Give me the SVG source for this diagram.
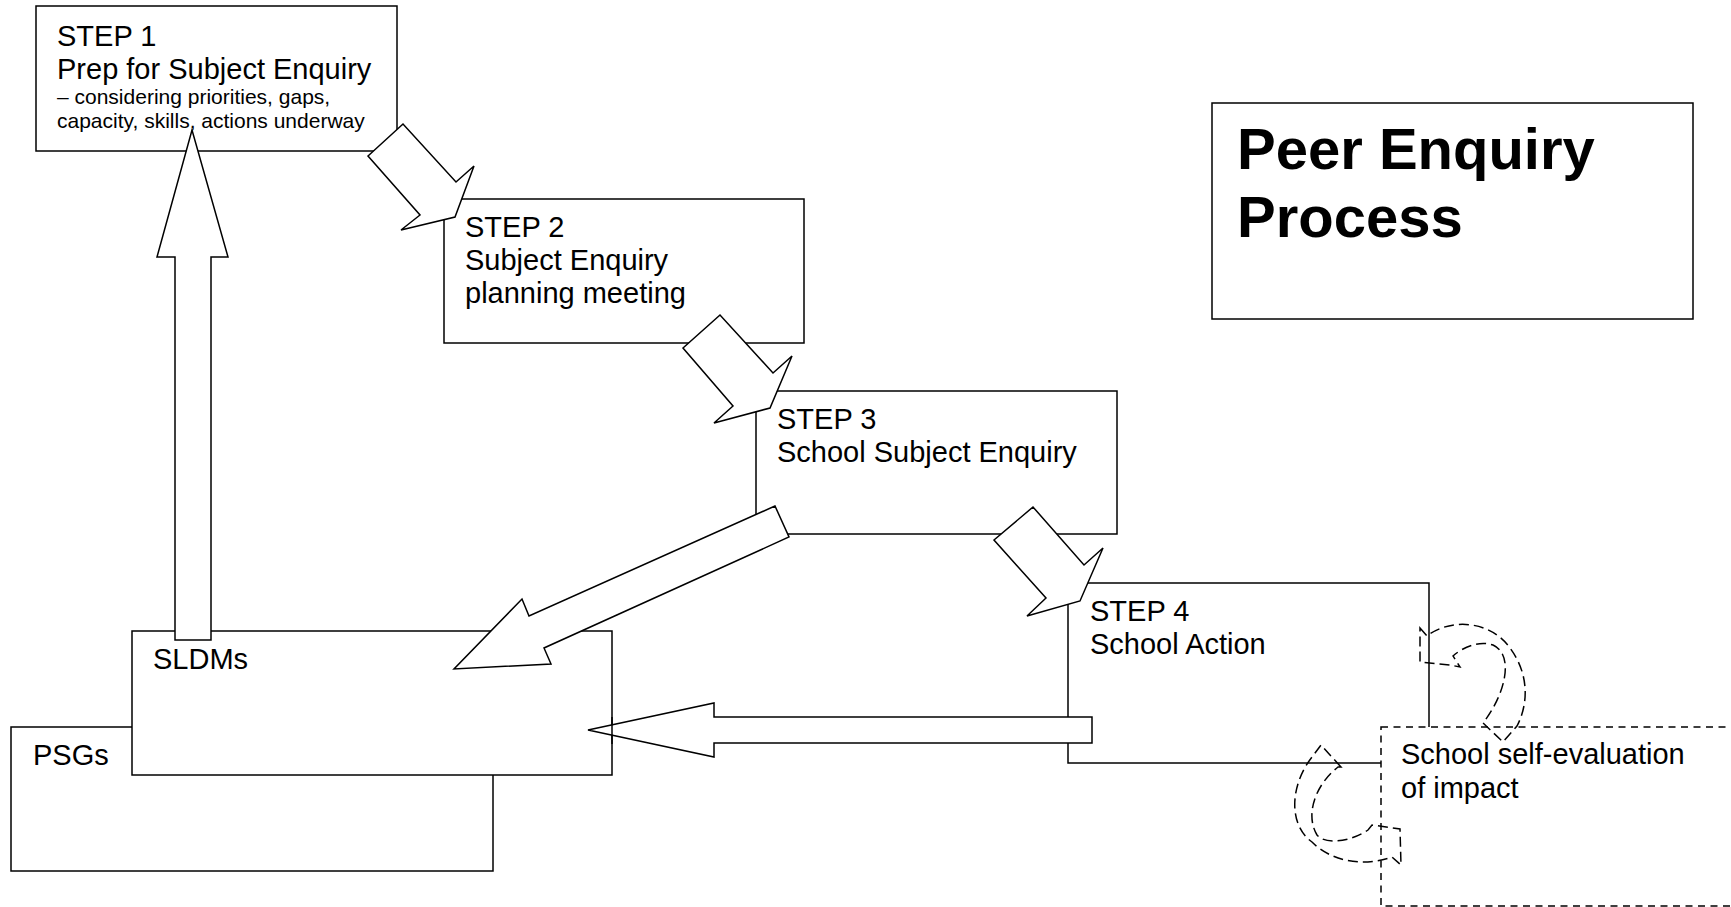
<svg xmlns="http://www.w3.org/2000/svg" width="1731" height="907" viewBox="0 0 1731 907">
<style>
.box{fill:#fff;stroke:#000;stroke-width:1.5}
.dbox{fill:#fff;stroke:#000;stroke-width:1.5;stroke-dasharray:7 5.5}
.t{font-family:"Liberation Sans",Arial,sans-serif;font-size:29px;fill:#000}
.s{font-family:"Liberation Sans",Arial,sans-serif;font-size:21px;fill:#000}
.h{font-family:"Liberation Sans",Arial,sans-serif;font-size:58px;font-weight:bold;fill:#000}
.ar{fill:#fff;stroke:#000;stroke-width:1.5;stroke-linejoin:miter}
.ca{fill:none;stroke:#000;stroke-width:1.5;stroke-dasharray:10 5}
</style>
<rect x="0" y="0" width="1731" height="907" fill="#fff"/>
<g id="step1">
<rect class="box" x="36" y="6" width="361" height="145"/>
<text class="t" x="57" y="46">STEP 1</text>
<text class="t" x="57" y="79">Prep for Subject Enquiry</text>
<text class="s" x="57" y="104">– considering priorities, gaps,</text>
<text class="s" x="57" y="128">capacity, skills, actions underway</text>
</g>
<g id="step2">
<rect class="box" x="444" y="199" width="360" height="144"/>
<text class="t" x="465" y="237">STEP 2</text>
<text class="t" x="465" y="270">Subject Enquiry</text>
<text class="t" x="465" y="303">planning meeting</text>
</g>
<g id="step3">
<rect class="box" x="756" y="391" width="361" height="143"/>
<text class="t" x="777" y="429">STEP 3</text>
<text class="t" x="777" y="462">School Subject Enquiry</text>
</g>
<g id="step4">
<rect class="box" x="1068" y="583" width="361" height="180"/>
<text class="t" x="1090" y="621">STEP 4</text>
<text class="t" x="1090" y="654">School Action</text>
</g>
<g id="selfeval">
<rect class="dbox" x="1381" y="727" width="360" height="179"/>
<text class="t" x="1401" y="764">School self-evaluation</text>
<text class="t" x="1401" y="798">of impact</text>
</g>
<g id="title">
<rect class="box" x="1212" y="103" width="481" height="216"/>
<text class="h" x="1237" y="169">Peer Enquiry</text>
<text class="h" x="1237" y="237">Process</text>
</g>
<g id="psgs">
<rect class="box" x="11" y="727" width="482" height="144"/>
<text class="t" x="33" y="765">PSGs</text>
</g>
<g id="sldms">
<rect class="box" x="132" y="631" width="480" height="144"/>
<text class="t" x="153" y="669">SLDMs</text>
</g>
<g id="connectors">
<polygon class="ar" points="368,156 403,124 456,182 474,166 455,217 401,230 420,215"/>
<polygon class="ar" points="683,348 720,315 773,373 792,356 770,408 714,423 733,406"/>
<polygon class="ar" points="994,540 1033,507 1084,565 1103,548 1080,601 1027,616 1046,598"/>
<polygon class="ar" points="175,640 175,257 157,257 192,130 228,257 211,257 211,640"/>
<polygon class="ar" points="775,506 529,616 522,599 454,669 551,664 544,648 789,537"/>
<polygon class="ar" points="1092,717 714,717 714,703 588,730 714,757 714,743 1092,743"/>
<path class="ca" d="M1420,628 L1427,636 C1450,618 1490,620 1510,648 C1530,675 1528,705 1517,726 L1503,742 L1483,723 C1505,695 1515,655 1493,645 C1478,640 1462,648 1453,656 L1460,667 L1450,665 L1420,662 Z"/>
<path class="ca" d="M1341,767 L1321,745 L1312,757 C1290,785 1288,825 1312,842 C1330,860 1360,868 1392,857 L1401,865 L1400,829 L1372,825 L1368,830 C1350,842 1325,845 1317,835 C1305,815 1315,785 1338,767 Z"/>
</g>
<g id="sldms-edge">
<line x1="612" y1="717" x2="612" y2="744" stroke="#000" stroke-width="1.5"/>
</g>
</svg>
